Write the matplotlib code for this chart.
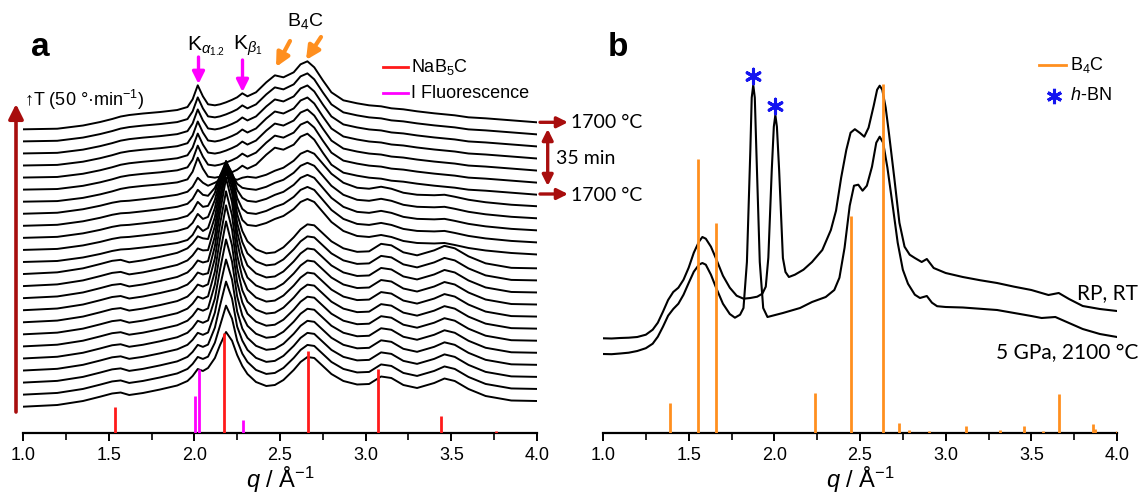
import matplotlib
matplotlib.use('Agg')
import matplotlib.pyplot as plt
import numpy as np
from matplotlib.ticker import MultipleLocator, FormatStrFormatter

plt.rcParams['font.family'] = ['Liberation Sans', 'DejaVu Sans']
plt.rcParams['mathtext.fontset'] = 'custom'
plt.rcParams['mathtext.rm'] = 'Liberation Sans'
plt.rcParams['mathtext.it'] = 'Liberation Sans:italic'
plt.rcParams['mathtext.bf'] = 'Liberation Sans:bold'

# ---------------- panel a data (intensity in arbitrary units) ----------------
Q_A = [1.00, 1.20, 1.35, 1.45, 1.52, 1.57, 1.62, 1.70, 1.80, 1.90,
       1.96, 1.99, 2.02, 2.05, 2.08, 2.12, 2.15, 2.185, 2.22, 2.25,
       2.28, 2.31, 2.36, 2.42, 2.47, 2.52, 2.58, 2.62, 2.66, 2.70,
       2.75, 2.80, 2.87, 2.95, 3.02, 3.09, 3.15, 3.22, 3.30, 3.40,
       3.46, 3.52, 3.60, 3.70, 3.85, 4.00]

PROF_TOP = [0, 0.6, 3.8, 7.3, 10.3, 12.8, 14.3, 15.8, 17.3, 19.3,
            22.3, 30, 44, 33, 25, 24, 25, 27, 29.5, 32,
            36, 33, 37, 47, 54, 52, 57, 65, 68, 62,
            49, 37, 29, 26, 24, 23, 21, 20, 18, 16,
            15, 14, 12, 11, 9, 7]
PROF_MID = [0, 1, 4.5, 8, 11, 12.5, 13, 14.5, 16.5, 19,
            22, 27, 36, 31, 28, 30, 32, 34, 34, 34,
            36, 37, 36, 39, 43, 46, 53, 60, 63, 60,
            50, 40, 31, 26, 25, 27, 25, 21, 19, 18.5,
            19, 17, 14, 11.5, 9, 7.5]
PROF_LOW = [0, 1.7, 5.7, 10, 13.2, 14.2, 11.7, 13.7, 17.2, 21.2,
            25.7, 30.7, 37.7, 35.7, 38.7, 48.7, 61.7, 74.7, 66, 51.7,
            40.7, 32.7, 24.7, 20.7, 21.7, 26.7, 36.7, 44.7, 49.7, 48.7,
            40.7, 32.7, 25.7, 22.2, 22.7, 30.2, 28.7, 21.7, 18.7, 23.7,
            28.2, 25.7, 17.7, 10.7, 6.2, 5.7]
PROFILES = {'top': PROF_TOP, 'mid': PROF_MID, 'low': PROF_LOW}
GROUP = ['top'] * 7 + ['mid'] * 5 + ['low'] * 12   # curve 0 = top (latest)

# NaB5C main reflection (~2.18) per curve, curves 7..23
PEAK_Q = [2.08, 2.12, 2.15, 2.185, 2.22, 2.25, 2.28]
PEAK_ROWS = {
    7: [28, 31, 34, 36, 35, 34, 36],
    8: [30, 38, 50, 60, 52, 42, 38],
    9: [32, 45, 62, 76, 65, 48, 40],
    10: [33, 50, 70, 89, 75, 52, 41],
    11: [34, 54, 78, 100, 84, 56, 42],
    12: [35, 57, 85, 110, 92, 60, 43],
    13: [36, 60, 90, 119, 99, 63, 44],
    14: [37, 62, 95, 127, 105, 66, 45],
    15: [37, 64, 98, 132, 108, 68, 45],
    16: [38, 64, 98, 131, 107, 67, 45],
    17: [38, 63, 96, 129, 105, 66, 44],
    18: [38, 62, 93, 125, 101, 64, 44],
    19: [38, 60, 89, 119, 97, 62, 43],
    20: [38, 58, 84, 111, 91, 59, 42],
    21: [38, 55, 77, 101, 84, 56, 42],
    22: [38, 52, 69, 89, 76, 54, 41],
    23: [38.7, 48.7, 61.7, 74.7, 66, 51.7, 40.7],
}

NAB5C_Q = [1.537, 2.175, 2.662, 3.074, 3.438, 3.76]
NAB5C_I = [26, 99.4, 82, 63.4, 17, 1.5]
FLUO_Q = [2.004, 2.027, 2.286]
FLUO_I = [37, 63.7, 12.7]

# ---------------- panel b data ----------------
Q_RP = [1.00, 1.05, 1.10, 1.15, 1.20, 1.25, 1.29, 1.32, 1.35, 1.38,
        1.41, 1.44, 1.47, 1.50, 1.53, 1.56, 1.58, 1.60, 1.63, 1.66,
        1.70, 1.74, 1.78, 1.82, 1.86, 1.90, 1.93, 1.95, 1.965, 1.985,
        1.997, 2.006, 2.015, 2.028, 2.05, 2.065, 2.085, 2.12, 2.17, 2.22,
        2.28, 2.33, 2.36, 2.39, 2.42, 2.445, 2.47, 2.50, 2.525, 2.55,
        2.58, 2.60, 2.615, 2.63, 2.65, 2.67, 2.70, 2.73, 2.76, 2.79,
        2.82, 2.86, 2.89, 2.93, 3.00, 3.10, 3.20, 3.30, 3.40, 3.50,
        3.60, 3.66, 3.72, 3.80, 3.90, 4.00]
I_RP = [94.4, 94.2, 94.7, 95, 95.7, 98, 103, 110, 121, 132.7,
        140.7, 145, 153, 165, 180, 191, 195.7, 194, 186, 174,
        157, 145, 137, 134, 134.7, 136, 139, 146, 175, 262.7,
        306, 317.7, 306, 262.7, 174.7, 160.7, 155.7, 158, 163, 170.7,
        182.7, 202.7, 222, 255, 282.7, 300, 303.5, 299.7, 296, 305,
        327, 343, 347, 343, 325, 298, 255, 210, 186, 178,
        174.7, 170.7, 173.7, 164.7, 159.7, 155.7, 152.5, 149.7, 146, 142.7,
        137.7, 139.7, 133.7, 126.7, 123.7, 121.7]
Q_HP = [1.00, 1.05, 1.10, 1.15, 1.20, 1.25, 1.29, 1.32, 1.35, 1.38,
        1.41, 1.44, 1.47, 1.50, 1.53, 1.56, 1.58, 1.60, 1.63, 1.66,
        1.70, 1.74, 1.77, 1.80, 1.82, 1.84, 1.86, 1.868, 1.877, 1.886,
        1.895, 1.915, 1.935, 1.96, 2.05, 2.15, 2.22, 2.30, 2.35, 2.38,
        2.41, 2.44, 2.465, 2.49, 2.515, 2.54, 2.57, 2.595, 2.615, 2.635,
        2.66, 2.69, 2.72, 2.75, 2.78, 2.82, 2.85, 2.89, 2.92, 2.95,
        3.00, 3.10, 3.30, 3.50, 3.56, 3.64, 3.72, 3.80, 3.90, 4.00]
I_HP = [78.7, 78.5, 79.2, 80, 81.7, 84.5, 89, 96, 106, 117,
        123.7, 129, 138, 149.7, 161, 168, 169.7, 168, 158, 145,
        129, 118.7, 115, 118, 124.7, 170.7, 282.7, 335, 347.7, 335,
        282.7, 170.7, 124.7, 115.7, 119.7, 124.7, 130.7, 135.7, 142.7, 155,
        185, 227, 247, 248, 242, 247, 266, 290, 296, 290,
        265, 228, 190, 163, 149, 138, 134.7, 136.7, 130, 126.5,
        125.7, 125.2, 122.7, 116.7, 114.7, 115.7, 109.7, 103.7, 98.7, 95.7]
B4C_Q = [1.393, 1.557, 1.658, 2.237, 2.445, 2.634, 2.727, 2.786, 2.90, 3.118,
         3.317, 3.458, 3.57, 3.664, 3.859, 3.874, 4.0]
B4C_I = [30, 273.4, 209.4, 40, 216.7, 348.7, 10, 3, 1.5, 6.7,
         3, 6.7, 1.5, 38.4, 9, 3.5, 2]
HBN_Q = [1.877, 2.006]
HBN_I = [347.7, 317.7]

# ---------------- layout ----------------
W, H = 1144, 501
AXIS_Y = 432.7
STEP = 12.06
BASE = 26.0
RED = '#FF1A1A'
MAGENTA = '#FF00FF'
ORANGE = '#FF8F1F'
DARKRED = '#A80D0D'
BLUE = '#1515F0'

fig = plt.figure(figsize=(W / 100, H / 100), dpi=100)
ax_a = fig.add_axes([23 / W, (H - AXIS_Y) / H, 514 / W, AXIS_Y / H])
ax_b = fig.add_axes([603 / W, (H - AXIS_Y) / H, 514 / W, AXIS_Y / H])


def style(ax):
    ax.set_xlim(1, 4)
    ax.set_ylim(0, AXIS_Y)
    for s in ['left', 'right', 'top']:
        ax.spines[s].set_visible(False)
    ax.spines['bottom'].set_linewidth(1.6)
    ax.set_yticks([])
    ax.xaxis.set_major_locator(MultipleLocator(0.5))
    ax.xaxis.set_minor_locator(MultipleLocator(0.25))
    ax.xaxis.set_major_formatter(FormatStrFormatter('%.1f'))
    ax.tick_params(axis='x', which='major', direction='out', length=6, width=1.4,
                   labelsize=13, pad=4)
    ax.tick_params(axis='x', which='minor', direction='out', length=5, width=1.2)
    ax.set_xlabel(r'$q$ / Å$^{-1}$', fontsize=17, labelpad=1)
    ax.patch.set_visible(False)


def fp(x, y):
    # figure pixels measured from the top-left corner
    return (x, H - y)


def arrow(x0, y0, x1, y1, color, lw=2.2, ms=16, style_='-|>'):
    fig.add_artist(plt.Annotation('', xy=fp(x1, y1), xytext=fp(x0, y0),
                                  xycoords='figure pixels', textcoords='figure pixels',
                                  arrowprops=dict(arrowstyle=style_, color=color, lw=lw,
                                                  mutation_scale=ms, shrinkA=0, shrinkB=0)))


def ftext(x, y, s, **kw):
    fig.text(x / W, 1 - y / H, s, **kw)


# ---------------- panel a ----------------
style(ax_a)
for i in range(24):
    prof = list(PROFILES[GROUP[i]])
    if i in PEAK_ROWS:
        for k, qk in enumerate(PEAK_Q):
            prof[Q_A.index(qk)] = PEAK_ROWS[i][k]
    y = BASE + (23 - i) * STEP + np.array(prof)
    ax_a.plot(Q_A, y, color='black', lw=1.4, zorder=2, solid_joinstyle='round')

ax_a.vlines(NAB5C_Q, 0, NAB5C_I, color=RED, lw=2.0, zorder=3)
ax_a.vlines(FLUO_Q, 0, FLUO_I, color=MAGENTA, lw=2.0, zorder=3)

ftext(40, 48, 'a', fontsize=24, fontweight='bold', ha='center', va='center')
ftext(24, 100, r'↑T (50 °·min$^{-1}$)', fontsize=13, ha='left', va='center')
arrow(16, 412, 16, 104, DARKRED, lw=2.6, ms=22)

# legend a
fig.add_artist(plt.Line2D([383 / W, 408 / W], [1 - 66.7 / H] * 2, color=RED, lw=2))
fig.add_artist(plt.Line2D([383 / W, 408 / W], [1 - 93.3 / H] * 2, color=MAGENTA, lw=2))
ftext(411, 66.7, r'NaB$_5$C', fontsize=13, ha='left', va='center')
ftext(411, 93.3, 'I Fluorescence', fontsize=13, ha='left', va='center')

# peak markers
ftext(206, 46, r'K$_{\alpha_{1.2}}$', fontsize=15, ha='center', va='center')
ftext(248, 46, r'K$_{\beta_1}$', fontsize=15, ha='center', va='center')
ftext(305, 21, r'B$_4$C', fontsize=14, ha='center', va='center')
arrow(198.5, 57, 198.5, 84, MAGENTA, lw=2.4, ms=18)
arrow(242.5, 60, 242.5, 92, MAGENTA, lw=2.4, ms=18)
arrow(290, 41, 276, 67, ORANGE, lw=3, ms=20)
arrow(321, 37, 306, 60, ORANGE, lw=3, ms=20)

# temperature hold annotations
arrow(540, 122.3, 568, 122.3, DARKRED, lw=2.4, ms=16)
arrow(540, 194, 568, 194, DARKRED, lw=2.4, ms=16)
arrow(547.7, 129, 547.7, 186, DARKRED, lw=2.4, ms=16, style_='<|-|>')
ftext(571, 123, '1700 °C', fontsize=14, family='Lato', ha='left', va='center')
ftext(571, 195, '1700 °C', fontsize=14, family='Lato', ha='left', va='center')
ftext(556, 158, '35 min', fontsize=14, family='Lato', ha='left', va='center')

# ---------------- panel b ----------------
style(ax_b)
ax_b.plot(Q_RP, I_RP, color='black', lw=1.5, zorder=2, solid_joinstyle='round')
ax_b.plot(Q_HP, I_HP, color='black', lw=1.5, zorder=2, solid_joinstyle='round')
ax_b.vlines(B4C_Q, 0, B4C_I, color=ORANGE, lw=2.0, zorder=3)
ax_b.scatter(HBN_Q, np.array(HBN_I) + 9, marker=(6, 2, 0), s=110, color=BLUE,
             linewidths=2.2, zorder=4)

ftext(618, 48, 'b', fontsize=24, fontweight='bold', ha='center', va='center')
ftext(1138, 293, 'RP, RT', fontsize=15, family='Lato', ha='right', va='center')
ftext(1138, 353, '5 GPa, 2100 °C', fontsize=15, family='Lato', ha='right', va='center')

fig.add_artist(plt.Line2D([1039 / W, 1066 / W], [1 - 65 / H] * 2, color=ORANGE, lw=2))
ftext(1070, 65, r'B$_4$C', fontsize=13, ha='left', va='center')
fig.add_artist(plt.Line2D([1053.5 / W], [1 - 96 / H], marker=(6, 2, 0), markersize=11,
                          markeredgewidth=2.2, color=BLUE, linestyle='none'))
ftext(1070, 96, r'$h$-BN', fontsize=13, ha='left', va='center')

fig.savefig('out.png', dpi=100)
